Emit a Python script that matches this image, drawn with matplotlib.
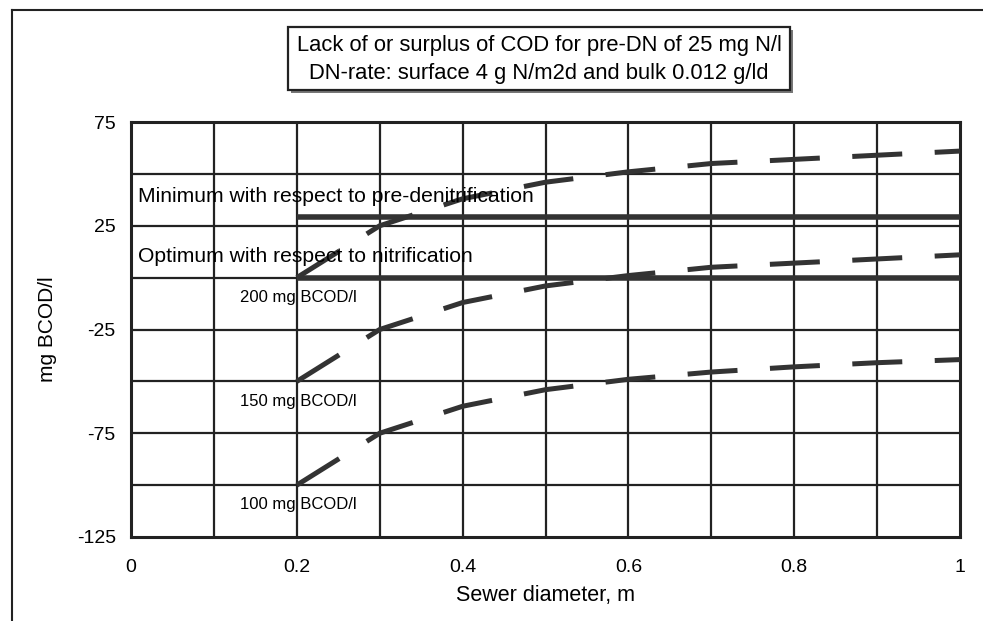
import matplotlib
matplotlib.use("Agg")
import matplotlib.pyplot as plt
from matplotlib.patches import Rectangle
from matplotlib.lines import Line2D

plt.rcParams["font.family"] = ["Liberation Sans", "DejaVu Sans"]
plt.rcParams["axes.unicode_minus"] = False

# sewer diameter (m) and BCOD balance (mg/l) for three influent strengths
diameter = [0.2, 0.3, 0.4, 0.5, 0.6, 0.7, 0.8, 0.9, 1.0]
bcod_200 = [0, 25, 38, 46, 51, 55, 57, 59, 61]
bcod_150 = [-50, -25, -12, -4, 1, 5, 7, 9, 11]
bcod_100 = [-100, -75, -62, -54, -49, -45.5, -43, -41, -39.5]
series_labels = ["200 mg BCOD/l", "150 mg BCOD/l", "100 mg BCOD/l"]

# reference levels
limit_x = [0.2, 1.0]
minimum_dn = 29
optimum_nit = 0

x_ticks = [0, 0.2, 0.4, 0.6, 0.8, 1]
x_ticklabels = ["0", "0.2", "0.4", "0.6", "0.8", "1"]
y_ticks = [75, 25, -25, -75, -125]

fig = plt.figure(figsize=(9.83, 6.21), dpi=100, facecolor="white")
ax = fig.add_axes([0.1333, 0.1353, 0.8433, 0.6682])

# grid every 0.1 / 25 units
for gx in [i / 10 for i in range(1, 10)]:
    ax.axvline(gx, color="#222222", lw=1.6, zorder=1)
for gy in range(-100, 75, 25):
    ax.axhline(gy, color="#222222", lw=1.6, zorder=1)

ink = "#333333"
ax.plot(limit_x, [minimum_dn] * 2, color=ink, lw=4.0, solid_capstyle="butt", zorder=3)
ax.plot(limit_x, [optimum_nit] * 2, color=ink, lw=4.0, solid_capstyle="butt", zorder=3)

for ys in (bcod_200, bcod_150, bcod_100):
    ax.plot(diameter, ys, color=ink, lw=3.6, dashes=(10, 6.5),
            dash_capstyle="butt", zorder=4)

ax.text(0.008, 39, "Minimum with respect to pre-denitrification",
        fontsize=15.2, va="center", ha="left", zorder=5)
ax.text(0.008, 10, "Optimum with respect to nitrification",
        fontsize=15.2, va="center", ha="left", zorder=5)
for lab, ys in zip(series_labels, (bcod_200, bcod_150, bcod_100)):
    ax.text(0.131, ys[0] - 9.5, lab, fontsize=12, va="center", ha="left", zorder=5)

ax.set_xlim(0, 1)
ax.set_ylim(-125, 75)
ax.set_xticks(x_ticks)
ax.set_xticklabels(x_ticklabels)
ax.set_yticks(y_ticks)
ax.tick_params(length=0, labelsize=14)
ax.tick_params(axis="x", pad=16)
ax.tick_params(axis="y", pad=11)
for sp in ax.spines.values():
    sp.set_linewidth(2.2)
    sp.set_color("#222222")
ax.set_xlabel("Sewer diameter, m", fontsize=15.5, labelpad=6)
ax.set_ylabel("mg BCOD/l", fontsize=15, labelpad=14)

# title box with a drop shadow
bx, by, bw, bh = 288 / 983, 1 - 90 / 621, 502 / 983, 63 / 621
fig.patches.append(Rectangle((bx + 3 / 983, by - 3 / 621), bw, bh,
                             transform=fig.transFigure, facecolor="#777777",
                             edgecolor="none", zorder=1))
fig.patches.append(Rectangle((bx, by), bw, bh, transform=fig.transFigure,
                             facecolor="white", edgecolor="#222222", lw=1.6, zorder=2))
fig.text(bx + bw / 2, 1 - 45 / 621, "Lack of or surplus of COD for pre-DN of 25 mg N/l",
         ha="center", va="center", fontsize=15.8, zorder=3)
fig.text(bx + bw / 2, 1 - 73 / 621, "DN-rate: surface 4 g N/m2d and bulk 0.012 g/ld",
         ha="center", va="center", fontsize=15.8, zorder=3)

# page frame
fig.lines.append(Line2D([12 / 983, 12 / 983], [0, 1 - 10 / 621], transform=fig.transFigure,
                        color="#222222", lw=1.5))
fig.lines.append(Line2D([12 / 983, 1], [1 - 10 / 621, 1 - 10 / 621], transform=fig.transFigure,
                        color="#222222", lw=1.5))

fig.savefig("out.png", dpi=100, facecolor="white")
